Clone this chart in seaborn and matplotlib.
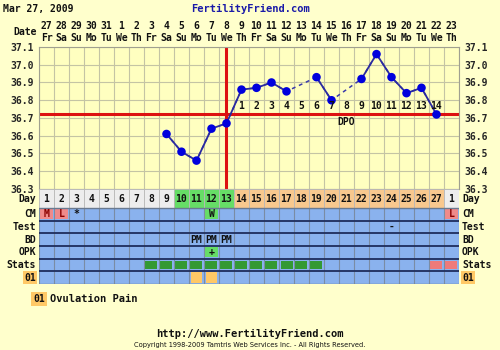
import numpy as np
import pandas as pd
import matplotlib
matplotlib.use("Agg")
import matplotlib.pyplot as plt
import seaborn as sns
from matplotlib.patches import Rectangle

# ---------------- data ----------------
date_labels = ['27', '28', '29', '30', '31', '1', '2', '3', '4', '5', '6', '7', '8', '9',
               '10', '11', '12', '13', '14', '15', '16', '17', '18', '19', '20', '21', '22', '23']
weekday_labels = ['Fr', 'Sa', 'Su', 'Mo', 'Tu', 'We', 'Th'] * 4
cycle_days = list(range(1, 28)) + [1]
temps = [np.nan] * 8 + [36.61, 36.51, 36.46, 36.64, 36.67, 36.86, 36.87, 36.90, 36.85, np.nan,
                        36.93, 36.80, np.nan, 36.92, 37.06, 36.93, 36.84, 36.87, 36.72] + [np.nan]
temp_ticks = [36.3, 36.4, 36.5, 36.6, 36.7, 36.8, 36.9, 37.0, 37.1]
coverline = 36.72
ovulation_day = 13
dpo_labels = list(range(1, 15))
dpo_first_col = 14
fertile_cols = [10, 11, 12, 13]
luteal_cols = list(range(14, 28))
cm_entries = {1: 'M', 2: 'L', 3: '*', 12: 'W', 28: 'L'}
cm_cell_colors = {1: '#f08a8a', 2: '#f08a8a', 12: '#66dd66', 28: '#f08a8a'}
test_entries = {24: '-'}
bd_entries = {11: 'PM', 12: 'PM', 13: 'PM'}
opk_entries = {12: '+'}
opk_cell_colors = {12: '#66dd66'}
stats_green_cols = list(range(8, 20))
stats_pink_cols = [27, 28]
ov_pain_cols = [11, 12]
row_names = ['CM', 'Test', 'BD', 'OPK', 'Stats', '01']

# ---------------- style ----------------
W, H = 500, 350
BG = '#ffffcc'
PLOT_BG = '#ffffc0'
GRID = '#c4c4a4'
BLUE_ROW = '#8ab2ee'
ROW_LINE = '#1e2d5c'
FONT = dict(family='DejaVu Sans Mono', weight='bold')
FS = 7

sns.set_theme(style='white')
plt.rcParams['font.family'] = ['DejaVu Sans Mono', 'DejaVu Sans']

fig = plt.figure(figsize=(W / 100, H / 100), dpi=100, facecolor=BG)


def fx(x):
    return x / W


def fy(y):
    return 1 - y / H


ncol = len(date_labels)
x0, x1 = 39, 459
ax = fig.add_axes([fx(x0), fy(189), (x1 - x0) / W, 142 / H])
ax.set_facecolor(PLOT_BG)
ax.set_xlim(0, ncol)
ax.set_ylim(36.3, 37.1)
ax.set_xticks(range(ncol + 1))
ax.set_xticklabels([])
ax.set_yticks(temp_ticks)
ax.set_yticklabels([f'{t:.1f}' for t in temp_ticks], **FONT, fontsize=FS)
ax.tick_params(axis='both', length=0, pad=4)
ax.tick_params(axis='y', labelleft=True, labelright=True)
ax.grid(True, color=GRID, lw=0.8)
for s in ax.spines.values():
    s.set_color('#a0a090')
    s.set_linewidth(0.8)
ax.set_xlabel('')
ax.set_ylabel('')

df = pd.DataFrame({'x': np.arange(ncol) + 0.5, 'temp': temps})
valid = df.dropna()

# red lines
ax.axhline(coverline, color='#dd1111', lw=2.2, zorder=2)
ax.axvline(ovulation_day - 0.5, color='#dd1111', lw=2.2, zorder=2)

# dashed connection across gaps
sns.lineplot(data=valid, x='x', y='temp', ax=ax, color='#3a3aaa', lw=1.1,
             linestyle=(0, (2.5, 2.5)), sort=True, estimator=None, zorder=3)
# solid runs
grp = df['temp'].isna().cumsum()
for _, seg in df[df['temp'].notna()].groupby(grp[df['temp'].notna()]):
    if len(seg) > 1:
        sns.lineplot(data=seg, x='x', y='temp', ax=ax, color='#2a2aa0', lw=1.3,
                     estimator=None, zorder=4)
sns.scatterplot(data=valid, x='x', y='temp', ax=ax, color='#0000dd', s=38,
                edgecolor='none', zorder=5)
ax.set_xlabel('')
ax.set_ylabel('')

# DPO labels
for i, lab in enumerate(dpo_labels):
    ax.text(dpo_first_col + i - 0.5, coverline + 0.045, str(lab), ha='center', va='center',
            fontsize=FS, **FONT, color='#111111', zorder=6)
ax.text(21 - 0.5, coverline - 0.04, 'DPO', ha='center', va='center', fontsize=FS, **FONT,
        color='#111111', zorder=6)

# date header
xt = ax.get_xaxis_transform()
for i, (d, w) in enumerate(zip(date_labels, weekday_labels)):
    ax.text(i + 0.5, 1 + 21 / 142, d, transform=xt, ha='center', va='center', fontsize=FS,
            **FONT, color='#111111', clip_on=False)
    ax.text(i + 0.5, 1 + 9 / 142, w, transform=xt, ha='center', va='center', fontsize=FS,
            **FONT, color='#111111', clip_on=False)
fig.text(fx(37), fy(32), 'Date', ha='right', va='center', fontsize=FS, **FONT, color='#111111')

# ---------------- table ----------------
tab = fig.add_axes([fx(x0), fy(284), (x1 - x0) / W, 95 / H])
tab.set_xlim(0, ncol)
tab.set_ylim(7.5, 0)
tab.axis('off')

day_h = 1.5
# day row
for i, d in enumerate(cycle_days):
    col = i + 1
    if col in fertile_cols:
        c = '#66dd66'
    elif col in luteal_cols:
        c = '#f8c88e'
    else:
        c = '#ededed'
    tab.add_patch(Rectangle((i, 0), 1, day_h, facecolor=c, edgecolor='#b8b8b8', lw=0.6))
    tab.text(i + 0.5, day_h / 2, str(d), ha='center', va='center', fontsize=FS, **FONT,
             color='#111111')

# blue rows
nrows = len(row_names)
tab.add_patch(Rectangle((0, day_h), ncol, nrows, facecolor=BLUE_ROW, edgecolor='none'))


def cell(col, row, color, inset_x=0.06, inset_y=0.1):
    tab.add_patch(Rectangle((col - 1 + inset_x, day_h + row + inset_y), 1 - 2 * inset_x,
                            1 - 2 * inset_y, facecolor=color, edgecolor='none', zorder=2))


def cell_text(col, row, s, color='#111111'):
    tab.text(col - 0.5, day_h + row + 0.5, s, ha='center', va='center', fontsize=FS, **FONT,
             color=color, zorder=4)


for col, c in cm_cell_colors.items():
    cell(col, 0, c)
for col, s in cm_entries.items():
    cell_text(col, 0, s, '#8a0000' if s in 'ML' else '#111111')
for col, s in test_entries.items():
    cell_text(col, 1, s)
for col, s in bd_entries.items():
    cell_text(col, 2, s)
for col, c in opk_cell_colors.items():
    cell(col, 3, c)
for col, s in opk_entries.items():
    cell_text(col, 3, s)
for col in stats_green_cols:
    cell(col, 4, '#339933', 0.1, 0.15)
for col in stats_pink_cols:
    cell(col, 4, '#ee7a7a', 0.1, 0.15)
for col in ov_pain_cols:
    cell(col, 5, '#ffc866', 0.14, 0.08)

for i in range(ncol + 1):
    tab.plot([i, i], [day_h, day_h + nrows], color='#7a8ca4', lw=0.8, zorder=3)
for r in range(nrows + 1):
    tab.plot([0, ncol], [day_h + r, day_h + r], color=ROW_LINE if 0 < r < nrows else '#6a7a90',
             lw=1.3 if 0 < r < nrows else 1.0, zorder=3)

# row labels
ty = tab.get_yaxis_transform()
labels = ['Day'] + row_names
centers = [day_h / 2] + [day_h + r + 0.5 for r in range(nrows)]
for lab, cy in zip(labels, centers):
    bbox = dict(boxstyle='square,pad=0.15', fc='#ffc866', ec='none') if lab == '01' else None
    tab.text(-3 / 420, cy, lab, transform=ty, ha='right', va='center', fontsize=FS, **FONT,
             color='#111111', bbox=bbox, clip_on=False)
    tab.text(1 + 3 / 420, cy, lab, transform=ty, ha='left', va='center', fontsize=FS, **FONT,
             color='#111111', bbox=bbox, clip_on=False)

# ---------------- header / legend / footer ----------------
fig.text(fx(3), fy(9), 'Mar 27, 2009', ha='left', va='center', fontsize=FS, **FONT, color='#111111')
fig.text(fx(250), fy(9), 'FertilityFriend.com', ha='center', va='center', fontsize=7.5, **FONT,
         color='#1a1aa8')
fig.text(fx(33), fy(299), '01', ha='left', va='center', fontsize=FS, **FONT, color='#111111',
         bbox=dict(boxstyle='square,pad=0.2', fc='#ffc866', ec='none'))
fig.text(fx(50), fy(299), 'Ovulation Pain', ha='left', va='center', fontsize=7.5, **FONT,
         color='#111111')
fig.text(fx(250), fy(334), 'http://www.FertilityFriend.com', ha='center', va='center',
         fontsize=7.5, **FONT, color='#111111')
fig.text(fx(250), fy(345), 'Copyright 1998-2009 Tamtris Web Services Inc. - All Rights Reserved.',
         ha='center', va='center', fontsize=4.8, family='DejaVu Sans', color='#111111')

fig.savefig('out.png', dpi=100, facecolor=BG)
